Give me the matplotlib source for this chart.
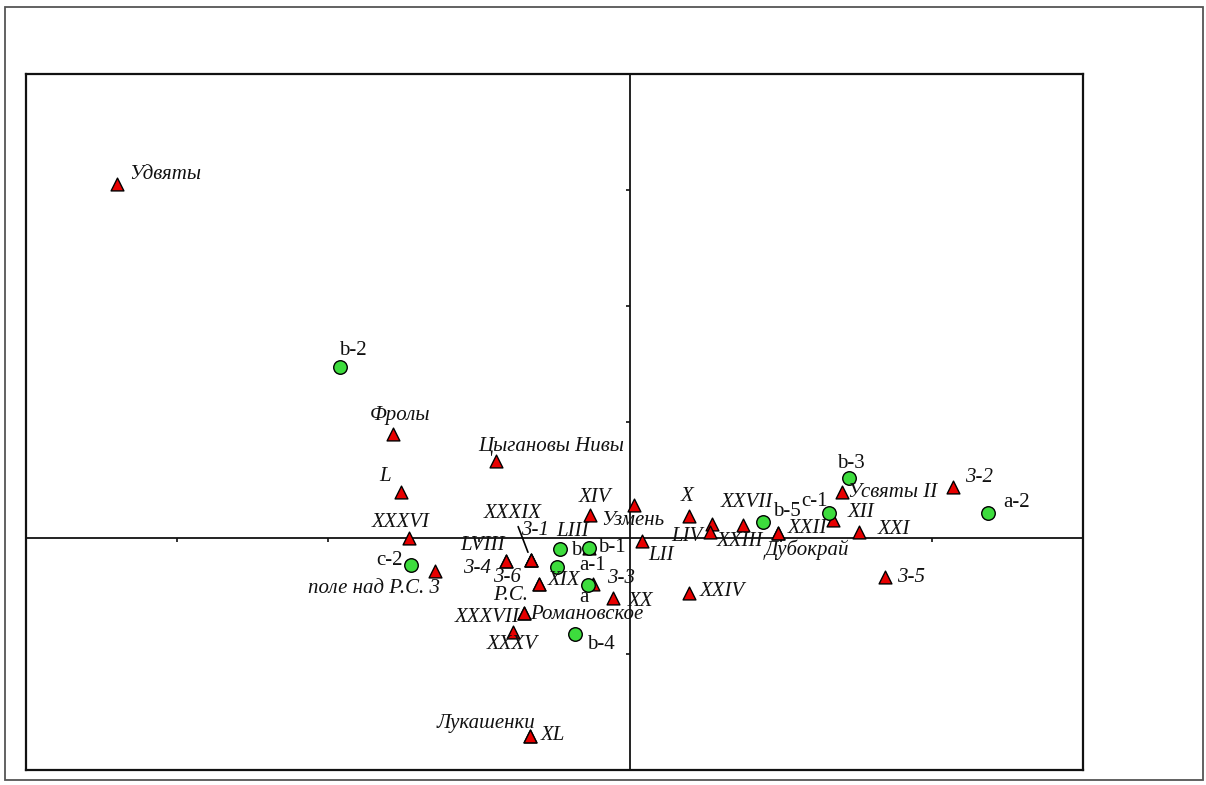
import matplotlib
matplotlib.use("Agg")
import matplotlib.pyplot as plt
from matplotlib.patches import Rectangle
from matplotlib.markers import TICKDOWN, TICKLEFT

# --- ordination scores: archaeological sites (triangles) ---
site_names = ["Удвяты", "Фролы", "Цыгановы Нивы", "L", "XXXVI", "поле над Р.С. 3",
              "LVIII", "3-4", "XXXIX", "3-6", "3-1", "XIX", "Р.С.", "3-3", "XX",
              "XXXVII", "Романовское", "XXXV", "XIV", "Узмень", "LII", "LIII",
              "XL", "Лукашенки", "X", "LIV", "XXIII", "XXVII", "XXII", "Дубокрай",
              "XII", "Усвяты II", "3-2", "XXI", "3-5", "XXIV"]
site_x = [-3.397, -1.570, -0.887, -1.517, -1.464, -1.291,
          -0.821, -0.821, -0.656, -0.656, -0.656, -0.603, -0.603, -0.245, -0.113,
          -0.702, -0.702, -0.775, -0.265, 0.026, 0.079, -0.272,
          -0.662, -0.662, 0.391, 0.543, 0.530, 0.748, 0.980, 0.980,
          1.344, 1.404, 2.139, 1.517, 1.689, 0.391]
site_y = [3.052, 0.897, 0.664, 0.397, 0.003, -0.284,
          -0.198, -0.198, -0.190, -0.190, -0.190, -0.397, -0.397, -0.397, -0.517,
          -0.647, -0.647, -0.810, 0.198, 0.284, -0.026, -0.086,
          -1.707, -1.707, 0.190, 0.121, 0.052, 0.112, 0.043, 0.043,
          0.155, 0.397, 0.440, 0.052, -0.336, -0.474]

# --- ordination scores: samples (circles) ---
sample_names = ["b-2", "c-2", "b", "b-1", "a-1", "a", "b-4", "b-5", "c-1", "b-3", "a-2"]
sample_x = [-1.921, -1.450, -0.464, -0.272, -0.483, -0.278, -0.364, 0.881, 1.318, 1.450, 2.371]
sample_y = [1.474, -0.233, -0.095, -0.086, -0.250, -0.405, -0.828, 0.138, 0.216, 0.517, 0.216]

x_ticks = [-3, -2, -1, 1, 2]
y_ticks = [-1, 1, 2, 3]

# label placement: offset in pixels (right, down) and horizontal alignment
site_label_pos = {
    "Удвяты": (12, -9, "left"), "Фролы": (7, -18, "center"),
    "Цыгановы Нивы": (-18, -14, "left"), "L": (-16, -15, "center"),
    "XXXVI": (-8, -15, "center"), "поле над Р.С. 3": (5, 18, "right"),
    "LVIII": (-1, -15, "right"), "3-4": (-15, 8, "right"),
    "XXXIX": (-18, -47, "center"), "3-6": (-24, 17, "center"),
    "3-1": (4, -30, "center"), "XIX": (9, -4, "left"), "Р.С.": (-11, 11, "right"),
    "3-3": (14, -6, "left"), "XX": (15, 4, "left"), "XXXVII": (-4, 4, "right"),
    "Романовское": (6, 1, "left"), "XXXV": (-1, 13, "center"),
    "XIV": (5, -18, "center"), "Узмень": (-1, 15, "center"), "LII": (6, 14, "left"),
    "LIII": (-16, -16, "center"), "XL": (11, -1, "left"),
    "Лукашенки": (5, -13, "right"), "X": (-2, -19, "center"),
    "LIV": (-9, 13, "right"), "XXIII": (7, 10, "left"), "XXVII": (4, -23, "center"),
    "XXII": (10, -5, "left"), "Дубокрай": (29, 17, "center"), "XII": (15, -8, "left"),
    "Усвяты II": (6, 1, "left"), "3-2": (12, -9, "left"), "XXI": (19, -2, "left"),
    "3-5": (12, 1, "left"), "XXIV": (11, -1, "left"),
}
sample_label_pos = {
    "b-2": (13, -17, "center"), "c-2": (-8, -5, "right"), "b": (11, 1, "left"),
    "b-1": (9, 0, "left"), "a-1": (22, -1, "left"), "a": (-4, 13, "center"),
    "b-4": (12, 10, "left"), "b-5": (10, -10, "left"), "c-1": (-1, -11, "right"),
    "b-3": (2, -15, "center"), "a-2": (15, -10, "left"),
}

W, H, DPI = 1206, 785, 100
fig = plt.figure(figsize=(W / DPI, H / DPI), dpi=DPI, facecolor="white")
plt.rcParams["font.family"] = ["Liberation Serif", "DejaVu Serif"]

# outer frame
fig.patches.append(Rectangle((5 / W, 5 / H), 1198 / W, 773 / H, transform=fig.transFigure,
                             fill=False, edgecolor="#555555", linewidth=1.3))

ax = fig.add_axes([26 / W, 15 / H, 1057 / W, 696 / H])
ax.set_xlim(-4, 3)
ax.set_ylim(-2, 4)
ax.set_xticks([])
ax.set_yticks([])
for sp in ax.spines.values():
    sp.set_linewidth(1.6)
    sp.set_color("#111111")

ax.axhline(0, color="#111111", lw=1.3, zorder=1)
ax.axvline(0, color="#111111", lw=1.3, zorder=1)
ax.plot(x_ticks, [0] * len(x_ticks), linestyle="none", marker=TICKDOWN,
        markersize=3, markeredgewidth=1.2, color="#111111", zorder=1)
ax.plot([0] * len(y_ticks), y_ticks, linestyle="none", marker=TICKLEFT,
        markersize=3, markeredgewidth=1.2, color="#111111", zorder=1)

ax.scatter(site_x, site_y, marker="^", s=85, facecolor="#e80000",
           edgecolor="black", linewidth=1.0, zorder=3)
ax.scatter(sample_x, sample_y, marker="o", s=95, facecolor="#3ddc3d",
           edgecolor="black", linewidth=1.0, zorder=4)

FS = 15
for name, x, y in zip(site_names, site_x, site_y):
    dx, dy, ha = site_label_pos[name]
    kw = {}
    if name == "XXXIX":
        kw["arrowprops"] = dict(arrowstyle="-", color="black", lw=1.2,
                                shrinkA=1, shrinkB=6)
    ax.annotate(name, (x, y), xytext=(dx, -dy), textcoords="offset pixels",
                ha=ha, va="center", fontsize=FS, style="italic",
                color="#111111", zorder=5, **kw)

for name, x, y in zip(sample_names, sample_x, sample_y):
    dx, dy, ha = sample_label_pos[name]
    ax.annotate(name, (x, y), xytext=(dx, -dy), textcoords="offset pixels",
                ha=ha, va="center", fontsize=FS, color="#111111", zorder=5)

fig.savefig("out.png", dpi=DPI, facecolor="white")
